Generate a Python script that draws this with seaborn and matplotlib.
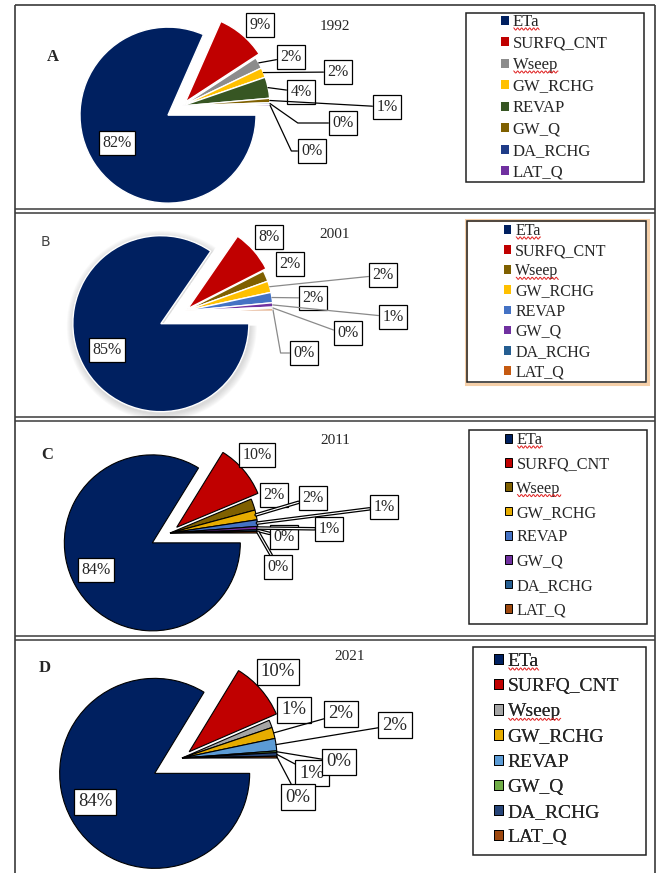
import numpy as np
import seaborn as sns
import matplotlib
matplotlib.use('Agg')
import matplotlib.pyplot as plt
import matplotlib.patheffects as pe
from matplotlib.patches import Patch, Rectangle, Wedge

# water balance components, share of precipitation (%)
names = ['ETa', 'SURFQ_CNT', 'Wseep', 'GW_RCHG', 'REVAP', 'GW_Q', 'DA_RCHG', 'LAT_Q']
years = ['1992', '2001', '2011', '2021']
letters = ['A', 'B', 'C', 'D']

share_1992 = [81.6, 9.2, 2.1, 1.8, 3.9, 0.8, 0.3, 0.3]
share_2001 = [84.6, 7.9, 2.0, 2.1, 1.9, 0.8, 0.3, 0.4]
share_2011 = [83.8, 9.9, 2.1, 1.8, 1.2, 0.6, 0.3, 0.3]
share_2021 = [83.7, 9.8, 1.3, 1.9, 2.1, 0.3, 0.6, 0.3]
shares = [share_1992, share_2001, share_2011, share_2021]

cols_1992 = ['#002060', '#C00000', '#8C8C8C', '#FFC000', '#375623', '#7F6000', '#1F3C88', '#7030A0']
cols_2001 = ['#002060', '#C00000', '#7F6000', '#FFC000', '#4472C4', '#7030A0', '#255E91', '#C55A11']
cols_2011 = ['#002060', '#C00000', '#7F6000', '#E6AC00', '#4472C4', '#7030A0', '#255E91', '#9E480E']
cols_2021 = ['#002060', '#C00000', '#A5A5A5', '#E6AC00', '#5B9BD5', '#70AD47', '#264478', '#9E480E']
colours = [cols_1992, cols_2001, cols_2011, cols_2021]

sns.set_theme(style='white')
SERIF = ['Liberation Serif', 'DejaVu Serif']
plt.rcParams['font.family'] = SERIF

W, H = 659, 873


def Y(y):
    # page is laid out in pixel coords measured from the top
    return H - y


ARC = 'arc3,rad=0'


def ang(b):
    return 'angle,angleA=0,angleB=%d,rad=0' % b


# layout of each panel (pixel positions on the page)
layout = [
    dict(center=(182, 106), r=88, explode=[0.19, 0.06, 0, 0, 0, 0, 0, 0],
         edge='white', elw=1.0, shadow=False,
         year_xy=(335, 27), letter_xy=(53, 57),
         letter_kw=dict(weight='bold', family=SERIF, size=12),
         lab_fs=11.5,
         lab_xy=[(117, 143), (260, 25), (291, 57), (338, 72), (301, 92),
                 (387, 107), (343, 123), (312, 151)],
         links=[None, None, ARC, ARC, ARC, ARC, ang(-35), ang(-65)],
         line_col='black', double=False,
         leg_xy=(501, 14), leg_fs=12, leg_ls=0.33, leg_box=(466, 13, 644, 182),
         leg_ec='none', glow=False),
    dict(center=(185, 311), r=88, explode=[0.31, 0.04, 0, 0, 0, 0, 0, 0],
         edge='white', elw=1.0, shadow=True,
         year_xy=(335, 234), letter_xy=(45, 242),
         letter_kw=dict(family='DejaVu Sans', size=10, color='#444444'),
         lab_fs=11.5,
         lab_xy=[(107, 350), (269, 237), (290, 264), (383, 275), (313, 298),
                 (393, 317), (348, 333), (304, 353)],
         links=[None, None, None, ARC, ARC, ARC, ang(-20), ang(-80)],
         line_col='#8a8a8a', double=False,
         leg_xy=(504, 223), leg_fs=11.5, leg_ls=0.26, leg_box=(467, 221, 646, 382),
         leg_ec='none', glow=True),
    dict(center=(170, 533), r=88, explode=[0.23, 0.1, 0, 0, 0, 0, 0, 0],
         edge='black', elw=0.8, shadow=False,
         year_xy=(335, 440), letter_xy=(47, 455),
         letter_kw=dict(weight='bold', family=SERIF, size=12),
         lab_fs=11.5,
         lab_xy=[(96, 570), (257, 455), (274, 495), (313, 498), (384, 507),
                 (329, 529), (284, 537), (278, 567)],
         links=[None, None, None, ARC, ARC, ARC, ARC, ARC],
         line_col='white', double=True,
         leg_xy=(505, 432), leg_fs=11.7, leg_ls=0.51, leg_box=(469, 430, 647, 624),
         leg_ec='black', glow=False),
    dict(center=(182, 758), r=95, explode=[0.33, 0.1, 0, 0, 0, 0, 0, 0],
         edge='black', elw=0.8, shadow=False,
         year_xy=(350, 657), letter_xy=(45, 668),
         letter_kw=dict(weight='bold', family=SERIF, size=12),
         lab_fs=13.5,
         lab_xy=[(95, 802), (278, 672), (294, 710), (341, 714), (395, 725),
                 (339, 762), (312, 773), (298, 797)],
         links=[None, None, None, ARC, ARC, ARC, ARC, ARC],
         line_col='black', double=False,
         leg_xy=(494, 653), leg_fs=14, leg_ls=0.42, leg_box=(473, 647, 646, 855),
         leg_ec='black', glow=False),
]

fig = plt.figure(figsize=(W / 100, H / 100), dpi=100)
ax = fig.add_axes([0, 0, 1, 1])

legends = []
for vals, cols, year, letter, lay in zip(shares, colours, years, letters, layout):
    cx, cy = lay['center']
    r = lay['r']
    # matplotlib's explode is in data units, so scale by the radius
    wedges, _ = ax.pie(vals, explode=[e * r for e in lay['explode']], colors=cols,
                       center=(cx, Y(cy)), radius=r, startangle=0,
                       counterclock=False, frame=True,
                       wedgeprops=dict(edgecolor=lay['edge'], linewidth=lay['elw']))

    if lay['shadow']:
        w = wedges[0]
        for k in range(1, 8):
            ax.add_patch(Wedge((w.center[0] + 1, w.center[1] - 2), w.r + k,
                               w.theta1, w.theta2, fc='#808080', lw=0,
                               alpha=0.045, zorder=0.5))

    # percentage labels with boxes and leader lines
    for i, (w, v) in enumerate(zip(wedges, vals)):
        th = np.deg2rad((w.theta1 + w.theta2) / 2)
        tip = (w.center[0] + w.r * np.cos(th), w.center[1] + w.r * np.sin(th))
        bx, by = lay['lab_xy'][i]
        link = lay['links'][i]
        box = dict(boxstyle='square,pad=0.22', fc='white', ec='black', lw=0.9)
        z = 6 if i != 6 else 5
        if link is None:
            ax.text(bx, Y(by), f'{v:.0f}%', ha='center', va='center',
                    fontsize=lay['lab_fs'], bbox=box, zorder=z)
            continue
        ap = dict(arrowstyle='-', color=lay['line_col'], lw=0.9,
                  shrinkA=0, shrinkB=0, connectionstyle=link)
        if lay['double']:
            ap['lw'] = 0.8
            ap['path_effects'] = [pe.Stroke(linewidth=2.6, foreground='black'),
                                  pe.Normal()]
        ax.annotate(f'{v:.0f}%', xy=tip, xytext=(bx, Y(by)),
                    ha='center', va='center', fontsize=lay['lab_fs'],
                    bbox=box, arrowprops=ap, zorder=z)

    ax.text(lay['year_xy'][0], Y(lay['year_xy'][1]), year, ha='center',
            va='center', fontsize=11)
    ax.text(lay['letter_xy'][0], Y(lay['letter_xy'][1]), letter, ha='center',
            va='center', **lay['letter_kw'])

    # legend frame + legend
    x0, y0, x1, y1 = lay['leg_box']
    if lay['glow']:
        ax.add_patch(Rectangle((x0 - 1.5, Y(y1) - 1.5), x1 - x0 + 3, y1 - y0 + 3,
                               fc='none', ec='#F5CFA8', lw=2.2))
    ax.add_patch(Rectangle((x0, Y(y1)), x1 - x0, y1 - y0, fc='none',
                           ec='#222222', lw=1.1))
    handles = [Patch(fc=c, ec=lay['leg_ec'], lw=0.7) for c in cols]
    leg = ax.legend(handles, names, loc='upper left',
                    bbox_to_anchor=(lay['leg_xy'][0], Y(lay['leg_xy'][1])),
                    bbox_transform=ax.transData, frameon=False,
                    prop=dict(family=SERIF, size=lay['leg_fs']),
                    handlelength=0.45, handleheight=0.45, handletextpad=0.25,
                    labelspacing=lay['leg_ls'], borderpad=0, borderaxespad=0)
    ax.add_artist(leg)
    legends.append(leg)

# page borders: outer frame and double rules between the panels
lc = '#3a3a3a'
ax.vlines([15, 655], Y(873), Y(5), color=lc, lw=1.2)
ax.hlines(Y(5), 15, 655, color=lc, lw=1.2)
for ya, yb in [(209, 212.5), (417, 421), (636, 640)]:
    ax.hlines([Y(ya), Y(yb)], 15, 655, color=lc, lw=1.1)

ax.set_xlim(0, W)
ax.set_ylim(0, H)
ax.set_aspect('auto')
ax.axis('off')

# red spell-check squiggles under some legend words
fig.canvas.draw()
rend = fig.canvas.get_renderer()
inv = ax.transData.inverted()
for leg in legends:
    for t in leg.get_texts():
        if t.get_text() in ('ETa', 'Wseep'):
            bb = t.get_window_extent(rend)
            xs = np.linspace(bb.x0 + 1, bb.x1, 60)
            ys = bb.y0 + 1.0 + 1.1 * np.sin((xs - bb.x0) * 2 * np.pi / 4.0)
            pts = inv.transform(np.column_stack([xs, ys]))
            ax.plot(pts[:, 0], pts[:, 1], color='#E02020', lw=0.7, zorder=10)

fig.savefig('out.png', dpi=100)
